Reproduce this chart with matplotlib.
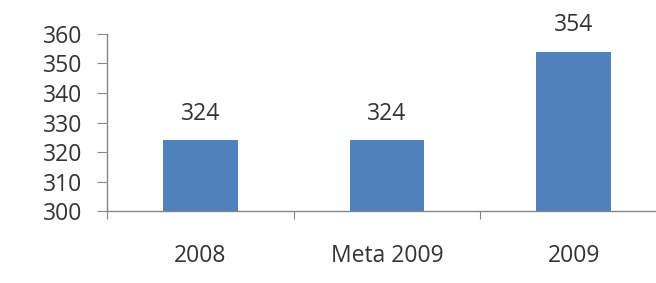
import matplotlib.pyplot as plt

categories = ['2008', 'Meta 2009', '2009']
values = [324, 324, 354]
y_ticks = [300, 310, 320, 330, 340, 350, 360]


def main():
    plt.rcParams['font.family'] = ['Open Sans', 'DejaVu Sans']
    fig = plt.figure(figsize=(6.56, 2.83), dpi=100)
    ax = fig.add_axes([0.163, 0.254, 0.854, 0.626])

    x = range(len(categories))
    bars = ax.bar(x, values, width=0.4, color='#4F81BD', zorder=2)
    for b, v in zip(bars, values):
        ax.text(b.get_x() + b.get_width() / 2, v + 9, str(v),
                ha='center', va='center', fontsize=16.5, color='#333333')

    ax.set_xlim(-0.5, 2.5)
    ax.set_ylim(300, 360)
    ax.set_yticks(y_ticks)
    ax.set_xticks([-0.5, 0.5, 1.5, 2.5])
    ax.set_xticklabels([])
    ax.set_xticks(list(x), minor=True)
    ax.set_xticklabels(categories, minor=True)
    ax.tick_params(axis='x', which='minor', length=0, pad=24, labelsize=16.5, labelcolor='#333333')
    ax.tick_params(axis='x', which='major', length=6, direction='out', color='#868686')
    ax.tick_params(axis='y', length=7, direction='out', color='#868686', labelsize=16.5,
                   labelcolor='#333333', pad=11)

    for s in ['top', 'right']:
        ax.spines[s].set_visible(False)
    for s in ['left', 'bottom']:
        ax.spines[s].set_color('#868686')
        ax.spines[s].set_linewidth(1)

    fig.savefig('out.png', dpi=100)


if __name__ == "__main__":
    main()
